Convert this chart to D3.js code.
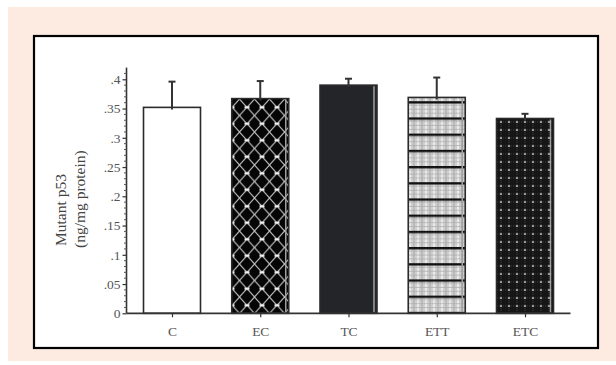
<!DOCTYPE html>
<html><head><meta charset="utf-8">
<script src="https://cdn.jsdelivr.net/npm/d3@7"></script>
<style>html,body{margin:0;padding:0;background:#fff;}svg{display:block;}</style>
</head><body>
<svg id="chart" width="616" height="365"></svg>
<script>
const categories = ["C", "EC", "TC", "ETT", "ETC"];
const means = [0.352, 0.367, 0.390, 0.369, 0.333];
const errors = [0.044, 0.030, 0.011, 0.034, 0.008];
const yTickValues = [0, 0.05, 0.1, 0.15, 0.2, 0.25, 0.3, 0.35, 0.4];
const yTickLabels = ["0", ".05", ".1", ".15", ".2", ".25", ".3", ".35", ".4"];
const yTitle = ["Mutant p53", "(ng/mg protein)"];

const svg = d3.select("#chart");
// backgrounds
svg.append("rect").attr("x", 8).attr("y", 7).attr("width", 608).attr("height", 354).attr("fill", "#fdebe2");
svg.append("rect").attr("x", 34).attr("y", 36).attr("width", 564).attr("height", 312)
  .attr("fill", "#fff").attr("stroke", "#000").attr("stroke-width", 2.2);

const defs = svg.append("defs");
// EC: diamond lattice on black
const pEC = defs.append("pattern").attr("id", "pEC").attr("patternUnits", "userSpaceOnUse")
  .attr("width", 15).attr("height", 16.5).attr("x", 232).attr("y", 0);
pEC.append("rect").attr("width", 15).attr("height", 16.5).attr("fill", "#050505");
pEC.append("path").attr("d", "M0,8.25 L7.5,0 L15,8.25 L7.5,16.5 Z").attr("fill", "none").attr("stroke", "#bdbdbd").attr("stroke-width", 1.1);
pEC.append("path").attr("d", "M-2.5,8.25 H2.5 M12.5,8.25 H17.5").attr("stroke", "#fff").attr("stroke-width", 1.8);
// ETT: plaid with thick black horizontal lines
const pETT = defs.append("pattern").attr("id", "pETT").attr("patternUnits", "userSpaceOnUse")
  .attr("width", 8).attr("height", 16.2).attr("x", 408).attr("y", 4);
pETT.append("rect").attr("width", 8).attr("height", 16.2).attr("fill", "#cfcfcf");
pETT.append("path").attr("d", "M2,0 V16.2").attr("stroke", "#f4f4f4").attr("stroke-width", 1.5);
pETT.append("path").attr("d", "M6,0 V16.2").attr("stroke", "#9a9a9a").attr("stroke-width", 0.7);
pETT.append("path").attr("d", "M0,4 H8 M0,8 H8 M0,12 H8").attr("stroke", "#a8a8a8").attr("stroke-width", 0.7);
pETT.append("path").attr("d", "M0,1 H8").attr("stroke", "#111").attr("stroke-width", 2.8);
// ETC: dark with dotted grid
const pETC = defs.append("pattern").attr("id", "pETC").attr("patternUnits", "userSpaceOnUse")
  .attr("width", 8).attr("height", 8).attr("x", 497).attr("y", 118);
pETC.append("rect").attr("width", 8).attr("height", 8).attr("fill", "#161616");
pETC.append("path").attr("d", "M0,4 H8 M4,0 V8").attr("stroke", "#4a4a4a").attr("stroke-width", 0.8).attr("stroke-dasharray", "1,1");
pETC.append("circle").attr("cx", 4).attr("cy", 4).attr("r", 0.9).attr("fill", "#cfcfcf");

const fills = {C: "#ffffff", EC: "url(#pEC)", TC: "#232528", ETT: "url(#pETT)", ETC: "url(#pETC)"};

const y = d3.scaleLinear().domain([0, 0.42]).range([313.3, 67.6]);
const x = d3.scalePoint().domain(categories).range([172, 525]);
const barW = 57;

// bars
const g = svg.append("g");
categories.forEach((c, i) => {
  const x0 = x(c) - barW / 2, yt = y(means[i]);
  g.append("rect").attr("x", x0).attr("y", yt).attr("width", barW).attr("height", y(0) - yt)
    .attr("fill", fills[c]).attr("stroke", "#2b2b2b").attr("stroke-width", 1.6);
  if (c !== "C") {
    g.append("line").attr("x1", x0 + barW - 3).attr("x2", x0 + barW - 3).attr("y1", yt + 1).attr("y2", y(0) - 1)
      .attr("stroke", "#a0a0a0").attr("stroke-width", 1.5);
  }
  // error bar
  const ye = y(means[i] + errors[i]);
  g.append("line").attr("x1", x(c)).attr("x2", x(c)).attr("y1", yt + 2).attr("y2", ye)
    .attr("stroke", "#333").attr("stroke-width", 2);
  g.append("line").attr("x1", x(c) - 3.5).attr("x2", x(c) + 3.5).attr("y1", ye).attr("y2", ye)
    .attr("stroke", "#333").attr("stroke-width", 2);
});

// y axis
const yAxis = d3.axisLeft(y).tickValues(yTickValues).tickFormat((d, i) => yTickLabels[i]).tickSize(4).tickPadding(2);
const ya = svg.append("g").attr("transform", "translate(126.5,0)").call(yAxis);
ya.select(".domain").attr("d", `M0,${y(0.42)}V${y(0)}`).attr("stroke", "#333").attr("stroke-width", 1.6);
ya.selectAll(".tick line").attr("stroke", "#333").attr("stroke-width", 1.2);
ya.selectAll(".tick text").attr("font-family", "Liberation Serif").attr("font-size", 13.5).attr("fill", "#555");
const minor = d3.range(0.01, 0.42, 0.01).filter(v => Math.abs(Math.round(v * 20) - v * 20) > 0.01);
ya.selectAll(".minor").data(minor).join("line").attr("class", "minor")
  .attr("x1", -2.5).attr("x2", 0).attr("y1", d => y(d)).attr("y2", d => y(d)).attr("stroke", "#555").attr("stroke-width", 1);

// x axis
const xAxis = d3.axisBottom(x).tickSize(4).tickPadding(9).tickSizeOuter(0);
const xa = svg.append("g").attr("transform", `translate(0,${y(0)})`).call(xAxis);
xa.select(".domain").attr("d", "M126.5,0H570.5").attr("stroke", "#333").attr("stroke-width", 1.8);
xa.selectAll(".tick line").attr("stroke", "#333").attr("stroke-width", 1.2);
xa.selectAll(".tick text").attr("font-family", "Liberation Serif").attr("font-size", 13.5).attr("fill", "#555");

// y title
svg.append("text").attr("transform", "translate(66,246) rotate(-90)").attr("text-anchor", "start")
  .attr("font-family", "Liberation Serif").attr("font-size", 15.5).attr("fill", "#444").text(yTitle[0]);
svg.append("text").attr("transform", "translate(85,248) rotate(-90)").attr("text-anchor", "start")
  .attr("font-family", "Liberation Serif").attr("font-size", 15.5).attr("fill", "#444").text(yTitle[1]);
</script>
</body></html>
